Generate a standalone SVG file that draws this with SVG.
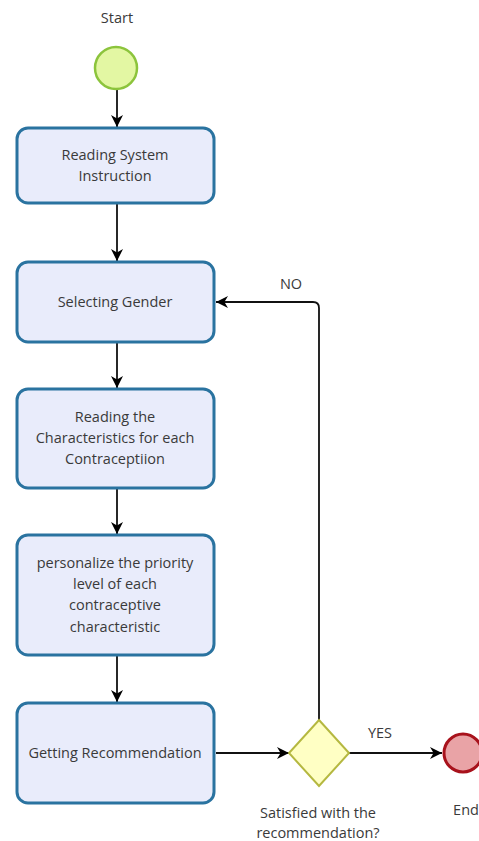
<svg xmlns="http://www.w3.org/2000/svg" width="479" height="841" viewBox="0 0 479 841">
<defs>
<marker id="arr" viewBox="0 0 10 10" refX="10" refY="5" markerWidth="12" markerHeight="12" markerUnits="userSpaceOnUse" orient="auto">
<path d="M0,0 L10,5 L0,10 L3,5 Z" fill="#000"/>
</marker>
<style>
.box{fill:#e9ecfb;stroke:#2a73a0;stroke-width:3}
.t{font-family:"Open Sans","Noto Sans",sans-serif;font-size:14.5px;fill:#3a3a3a;text-anchor:middle}
.c{fill:none;stroke:#111;stroke-width:1.8;marker-end:url(#arr)}
</style>
</defs>
<rect width="479" height="841" fill="#fff"/>
<g id="connectors">
<line class="c" x1="117" y1="90" x2="117" y2="127"/>
<line class="c" x1="117" y1="204" x2="117" y2="261"/>
<line class="c" x1="117" y1="343" x2="117" y2="388"/>
<line class="c" x1="117" y1="489" x2="117" y2="534"/>
<line class="c" x1="117" y1="656" x2="117" y2="702"/>
<line class="c" x1="216" y1="753" x2="289" y2="753"/>
<line class="c" x1="349" y1="753" x2="442" y2="753"/>
<path class="c" d="M319,720 L319,308 Q319,302 313,302 L216,302"/>
<text class="t" x="291" y="289">NO</text>
<text class="t" x="380" y="738">YES</text>
</g>
<g id="start">
<circle cx="116" cy="68" r="21" fill="#e3f7a3" stroke="#8cc43c" stroke-width="2.5"/>
<text class="t" x="117" y="23">Start</text>
</g>
<g id="n1">
<rect class="box" x="17" y="128" width="197" height="75" rx="11"/>
<text class="t" x="115" y="160">Reading System</text>
<text class="t" x="115" y="181">Instruction</text>
</g>
<g id="n2">
<rect class="box" x="17" y="262" width="197" height="80" rx="11"/>
<text class="t" x="115" y="307">Selecting Gender</text>
</g>
<g id="n3">
<rect class="box" x="17" y="389" width="197" height="99" rx="11"/>
<text class="t" x="115" y="422">Reading the</text>
<text class="t" x="115" y="443">Characteristics for each</text>
<text class="t" x="115" y="464">Contraceptiion</text>
</g>
<g id="n4">
<rect class="box" x="17" y="535" width="197" height="120" rx="11"/>
<text class="t" x="115" y="568">personalize the priority</text>
<text class="t" x="115" y="589">level of each</text>
<text class="t" x="115" y="610">contraceptive</text>
<text class="t" x="115" y="632">characteristic</text>
</g>
<g id="n5">
<rect class="box" x="17" y="703" width="197" height="100" rx="11"/>
<text class="t" x="115" y="758">Getting Recommendation</text>
</g>
<g id="gateway">
<polygon points="319,720 349,753 319,786 289,753" fill="#ffffc4" stroke="#b5b840" stroke-width="2"/>
<text class="t" x="318" y="818">Satisfied with the</text>
<text class="t" x="318" y="838">recommendation?</text>
</g>
<g id="end">
<circle cx="463" cy="753" r="19" fill="#e9a3a6" stroke="#a8121c" stroke-width="3"/>
<text class="t" x="466" y="815">End</text>
</g>
</svg>
